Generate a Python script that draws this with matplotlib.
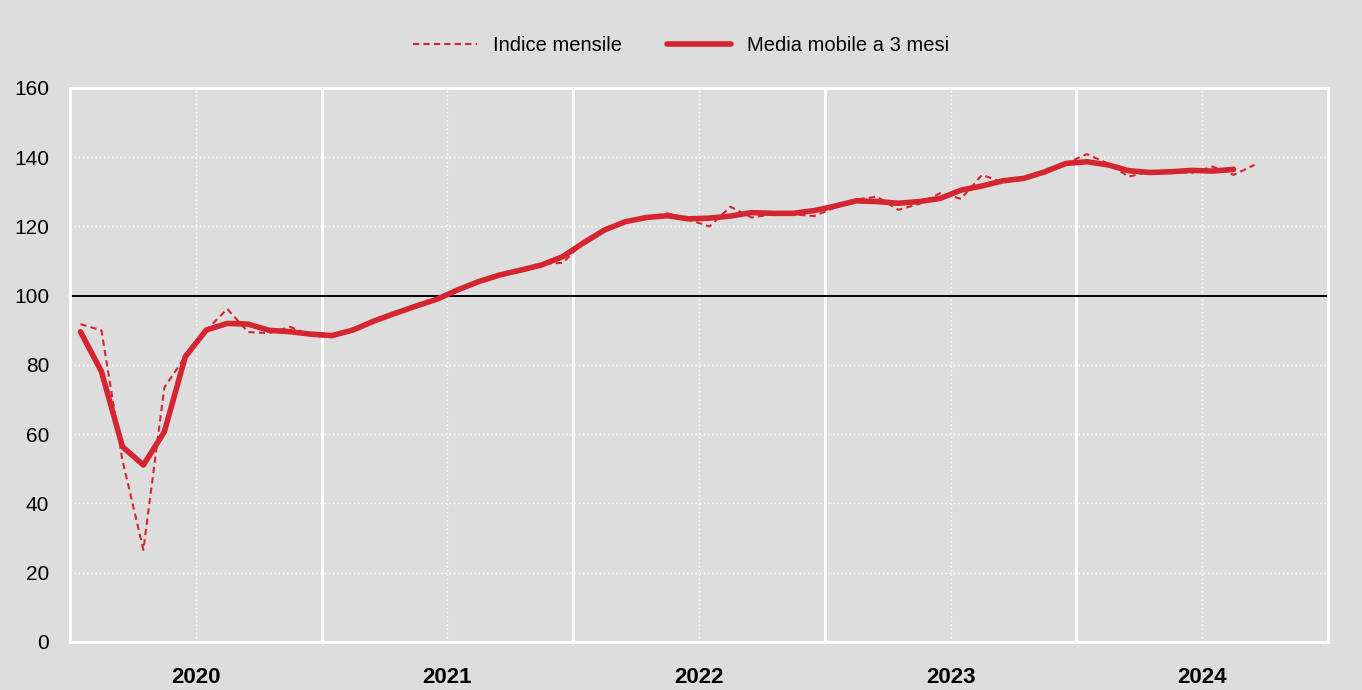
import matplotlib
matplotlib.use('Agg')
import matplotlib.pyplot as plt
import numpy as np

RED = '#d52530'
BG = '#dddddd'

years = ['2020', '2021', '2022', '2023', '2024']

# monthly index, Jan 2020 - Sep 2024
indice_mensile = [
    91.8, 90.0, 52.5, 26.6, 73.5, 82.5, 90.0, 96.2, 89.5, 89.2, 91.0, 88.5,
    88.0, 90.5, 92.8, 95.0, 97.0, 99.0, 101.8, 104.2, 106.2, 107.6, 109.2, 109.5,
    115.5, 119.5, 121.5, 122.5, 123.8, 122.0, 120.0, 125.7, 122.6, 123.5, 123.5, 123.0,
    125.5, 127.8, 128.6, 124.8, 126.5, 129.6, 128.0, 134.9, 132.7, 133.6, 135.8, 138.2,
    140.9, 138.2, 134.4, 135.8, 136.0, 135.5, 137.3, 134.9, 137.8,
]

# centred 3-month moving average, Jan 2020 - Aug 2024
media_mobile = [
    89.6, 78.1, 56.4, 51.1, 60.7, 82.4, 90.1, 92.0, 91.8, 90.0, 89.6, 88.9,
    88.5, 90.1, 92.7, 94.9, 97.0, 99.0, 101.7, 104.1, 106.0, 107.4, 108.9, 111.3,
    115.3, 119.0, 121.4, 122.6, 123.1, 122.2, 122.4, 123.0, 124.0, 123.8, 123.8, 124.6,
    125.9, 127.4, 127.2, 126.7, 127.2, 128.1, 130.5, 131.7, 133.2, 133.9, 135.8, 138.2,
    138.7, 137.8, 136.1, 135.6, 135.8, 136.2, 136.0, 136.5,
]

plt.rcParams['font.family'] = ['Liberation Sans', 'DejaVu Sans']

fig = plt.figure(figsize=(13.62, 6.9), dpi=100, facecolor=BG)
ax = fig.add_axes([0.0514, 0.0696, 0.9236, 0.8029], facecolor=BG)

n_months = len(years) * 12
ax.set_xlim(0, n_months)
ax.set_ylim(0, 160)

# grid
for y in range(20, 160, 20):
    ax.axhline(y, color='white', lw=1.0, ls=(0, (1, 2)), zorder=1)
for k in range(len(years)):
    ax.axvline(k * 12 + 6, color='white', lw=1.0, ls=(0, (1, 2)), zorder=1)
    if k > 0:
        ax.axvline(k * 12, color='white', lw=2.2, zorder=1)
ax.axhline(100, color='black', lw=1.4, zorder=2)

x_m = np.arange(len(indice_mensile)) + 0.5
x_ma = np.arange(len(media_mobile)) + 0.5
ax.plot(x_m, indice_mensile, color=RED, lw=1.5, ls=(0, (3, 2)),
        label='Indice mensile', zorder=3)
ax.plot(x_ma, media_mobile, color=RED, lw=4.0, solid_capstyle='round',
        solid_joinstyle='round', label='Media mobile a 3 mesi', zorder=4)

ax.set_yticks(range(0, 161, 20))
ax.tick_params(axis='y', length=0, pad=15, labelsize=15)
ax.set_xticks([k * 12 + 6 for k in range(len(years))])
ax.set_xticklabels(years, fontsize=16, fontweight='bold')
ax.tick_params(axis='x', length=0, pad=18)

for s in ax.spines.values():
    s.set_color('white')
    s.set_linewidth(2)

fig.legend(loc='center', bbox_to_anchor=(0.5, 0.934), ncol=2, frameon=False,
           fontsize=14.5, handlelength=3.2, columnspacing=2.2, handletextpad=0.8)

fig.savefig('out.png', dpi=100, facecolor=BG)
